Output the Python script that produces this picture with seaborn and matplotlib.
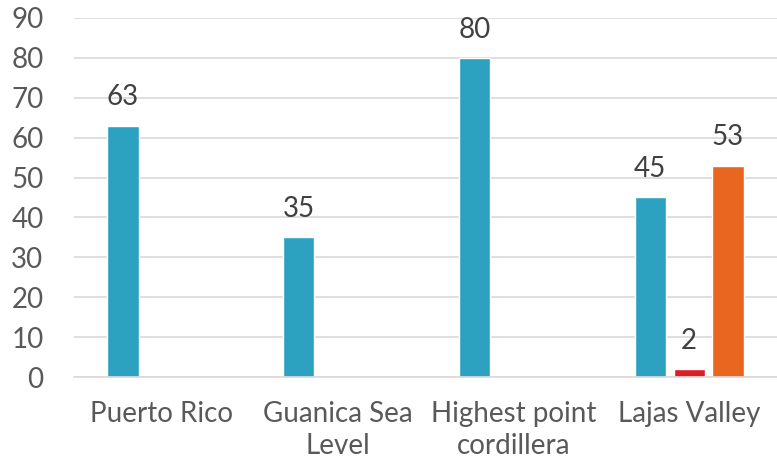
import matplotlib
matplotlib.use("Agg")
import matplotlib.pyplot as plt
import seaborn as sns
import pandas as pd

categories = ["Puerto Rico", "Guanica Sea\nLevel", "Highest point\ncordillera", "Lajas Valley"]
series_names = ["Series 1", "Series 2", "Series 3"]
series1 = [63, 35, 80, 45]
series2 = [None, None, None, 2]
series3 = [None, None, None, 53]
colors = ["#2CA2C0", "#D92028", "#E8661F"]

rows = []
for name, vals in zip(series_names, [series1, series2, series3]):
    for cat, v in zip(categories, vals):
        if v is not None:
            rows.append({"category": cat, "series": name, "value": v})
df = pd.DataFrame(rows)

sns.set_theme(style="white")
plt.rcParams["font.family"] = ["Lato", "DejaVu Sans"]

fig = plt.figure(figsize=(7.77, 4.61), dpi=100)
ax = fig.add_axes([74 / 777, 1 - 377 / 461, 1 - 74 / 777, (377 - 18) / 461])

sns.barplot(data=df, x="category", y="value", hue="series", order=categories,
            hue_order=series_names, palette=colors, width=0.663, gap=0.2,
            errorbar=None, ax=ax, legend=False, saturation=1)

ax.set_ylim(0, 90)
ax.set_xlim(-0.5, 3.5)
ax.set_yticks(range(0, 91, 10))
ax.yaxis.grid(True, color="#D9D9D9", linewidth=1.2)
ax.set_axisbelow(True)
for s in ["top", "right", "left"]:
    ax.spines[s].set_visible(False)
ax.spines["bottom"].set_color("#D9D9D9")
ax.spines["bottom"].set_linewidth(1.2)
ax.set_xlabel("")
ax.set_ylabel("")
ax.tick_params(axis="y", length=0, pad=22, labelsize=20, labelcolor="#595959")
ax.tick_params(axis="x", length=0, pad=17, labelsize=20, labelcolor="#595959")
for lbl in ax.get_xticklabels():
    lbl.set_linespacing(1.3)

for cont in ax.containers:
    ax.bar_label(cont, labels=[f"{v:.0f}" if v == v else "" for v in cont.datavalues],
                 padding=11, fontsize=20, color="#404040")

fig.savefig("out.png", dpi=100)
